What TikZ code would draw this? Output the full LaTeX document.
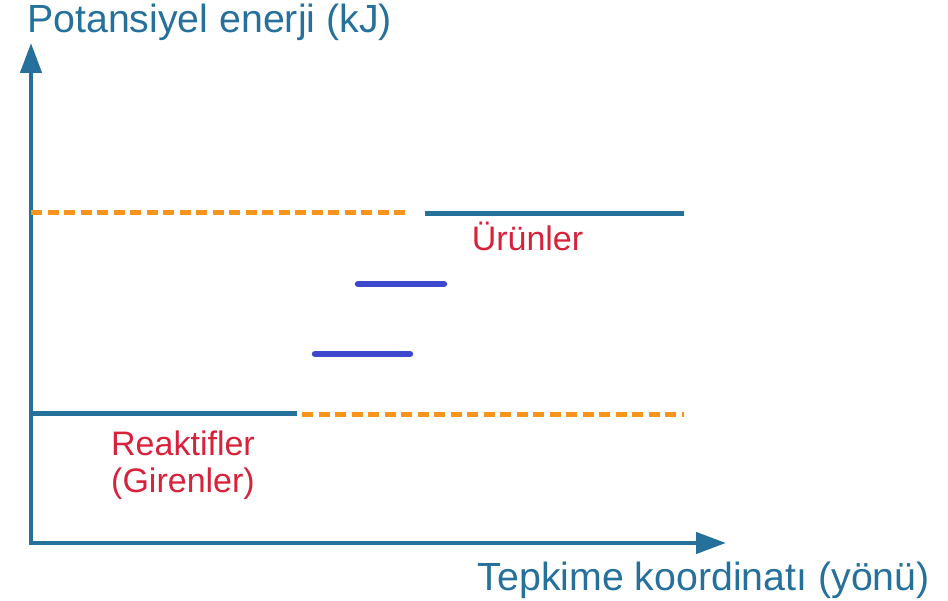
\documentclass[tikz,border=0pt]{standalone}
\usepackage{fontspec}
\setmainfont{Liberation Sans}
\usetikzlibrary{arrows.meta}
\definecolor{axisblue}{RGB}{38,113,156}
\definecolor{levelorange}{RGB}{247,148,30}
\definecolor{barblue}{RGB}{61,72,204}
\definecolor{labelred}{RGB}{214,34,58}
\tikzset{
  axisline/.style={draw=axisblue, line width=4.5pt,
    {Triangle[length=30pt,width=21pt]}-{Triangle[length=30pt,width=21pt]}},
  levelline/.style={draw=axisblue, line width=5pt},
  refline/.style={draw=levelorange, line width=4.5pt, dash pattern=on 11pt off 5.5pt},
  stepbar/.style={draw=barblue, line width=6.5pt, line cap=round},
  axistitle/.style={text=axisblue, font=\fontsize{39.3}{45}\selectfont, inner sep=0pt},
  levellabel/.style={text=labelred, font=\fontsize{34}{37}\selectfont, inner sep=0pt, align=center}
}
\begin{document}
\begin{tikzpicture}[x=1pt,y=-1pt]
\useasboundingbox (0,0) rectangle (948,601);

% axes
\coordinate (ytip) at (31,43);
\coordinate (origin) at (31,543);
\coordinate (xtip) at (726,543);
\draw[axisline] (ytip) -- (origin) -- (xtip);

% energy levels
\coordinate (prodL) at (425,213.5);
\coordinate (prodR) at (684,213.5);
\coordinate (prodDashL) at (31,212.5);
\coordinate (prodDashR) at (410,212.5);
\coordinate (reacL) at (31,413.5);
\coordinate (reacR) at (297,413.5);
\coordinate (reacDashL) at (302,414.5);
\coordinate (reacDashR) at (684,414.5);

\draw[refline] (prodDashL) -- (prodDashR);
\draw[refline] (reacDashL) -- (reacDashR);
\draw[levelline] (prodL) -- (prodR);
\draw[levelline] (reacL) -- (reacR);

% intermediate steps
\coordinate (s1L) at (358,284);
\coordinate (s1R) at (444,284);
\coordinate (s2L) at (315,354);
\coordinate (s2R) at (410,354);
\draw[stepbar] (s1L) -- (s1R);
\draw[stepbar] (s2L) -- (s2R);

% labels
\node[axistitle, anchor=base west] (ytitle) at (27,33) {Potansiyel enerji (kJ)};
\node[axistitle, anchor=base east] (xtitle) at (930,590) {Tepkime koordinatı (yönü)};
\node[levellabel, anchor=base] (prodlabel) at (527.5,251) {Ürünler};
\node[levellabel, anchor=base] (reaclabel) at (183,492) {Reaktifler\\(Girenler)};
\end{tikzpicture}
\end{document}
